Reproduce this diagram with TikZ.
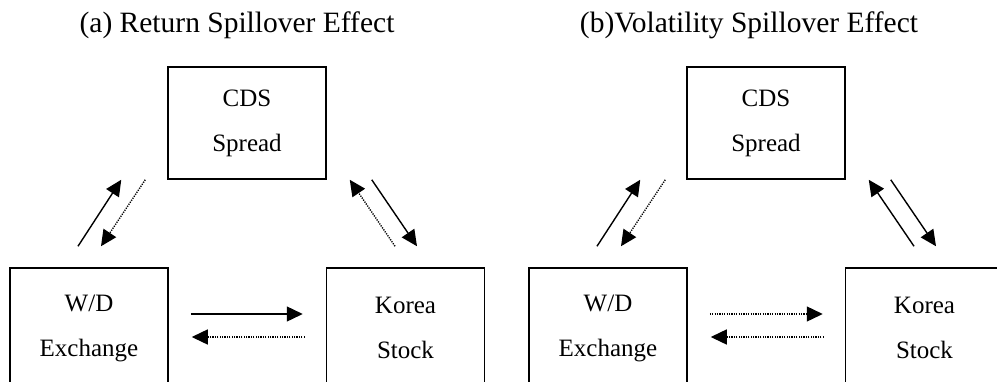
\documentclass[tikz,border=0pt]{standalone}
\usepackage{fontspec}
\setmainfont{Liberation Serif}
\usetikzlibrary{arrows.meta,calc}
\begin{document}
\begin{tikzpicture}[x=1pt,y=1pt,
  box/.style={draw,line width=1.5pt,minimum width=158pt,minimum height=112pt,inner sep=0pt,align=center,font=\fontsize{25}{45}\selectfont},
  lowbox/.style={box,minimum height=120pt},
  ttl/.style={font=\fontsize{29.5}{32}\selectfont,anchor=base,inner sep=0pt},
  arr/.style={line width=1.4pt,-{Triangle[length=16pt,width=15pt]}},
  darr/.style={arr,line width=1.4pt,dash pattern=on 1.2pt off 1.2pt}]
\useasboundingbox (0,0) rectangle (997,-381);
\clip (0,0) rectangle (997,-381);

% titles
\node[ttl] (ta) at (237,-32) {(a) Return Spillover Effect};
\node[ttl] (tb) at (749,-32) {(b)Volatility Spillover Effect};

% panel a
\node[box] (cdsa) at (247,-123) {CDS\\Spread};
\node[lowbox] (wda) at (89,-328) {W/D\\Exchange};
\node[lowbox] (ksa) at (405.5,-328) {Korea\\Stock};

\draw[arr]  ($(wda.north)+(-11,21)$) -- ($(cdsa.south west)+(-46,0)$);
\draw[darr] ($(cdsa.south west)+(-22,0)$) -- ($(wda.north)+(12,21)$);
\draw[darr] ($(ksa.north)+(-10.5,21)$) -- ($(cdsa.south east)+(23,0)$);
\draw[arr]  ($(cdsa.south east)+(45,0)$) -- ($(ksa.north)+(11.5,21)$);
\draw[arr]  ($(wda.east)+(22,14)$) -- ($(ksa.west)+(-23,14)$);
\draw[darr] ($(ksa.west)+(-21,-9)$) -- ($(wda.east)+(23,-9)$);

% panel b
\node[box] (cdsb) at (766,-123) {CDS\\Spread};
\node[lowbox] (wdb) at (608,-328) {W/D\\Exchange};
\node[lowbox] (ksb) at (924.5,-328) {Korea\\Stock};

\draw[arr]  ($(wdb.north)+(-11,21)$) -- ($(cdsb.south west)+(-46,0)$);
\draw[darr] ($(cdsb.south west)+(-21,0)$) -- ($(wdb.north)+(13,21)$);
\draw[arr]  ($(ksb.north)+(-10.5,21)$) -- ($(cdsb.south east)+(23,0)$);
\draw[arr]  ($(cdsb.south east)+(45,0)$) -- ($(ksb.north)+(11.5,21)$);
\draw[darr] ($(wdb.east)+(22,14)$) -- ($(ksb.west)+(-22,14)$);
\draw[darr] ($(ksb.west)+(-21,-9)$) -- ($(wdb.east)+(23,-9)$);
\end{tikzpicture}
\end{document}
